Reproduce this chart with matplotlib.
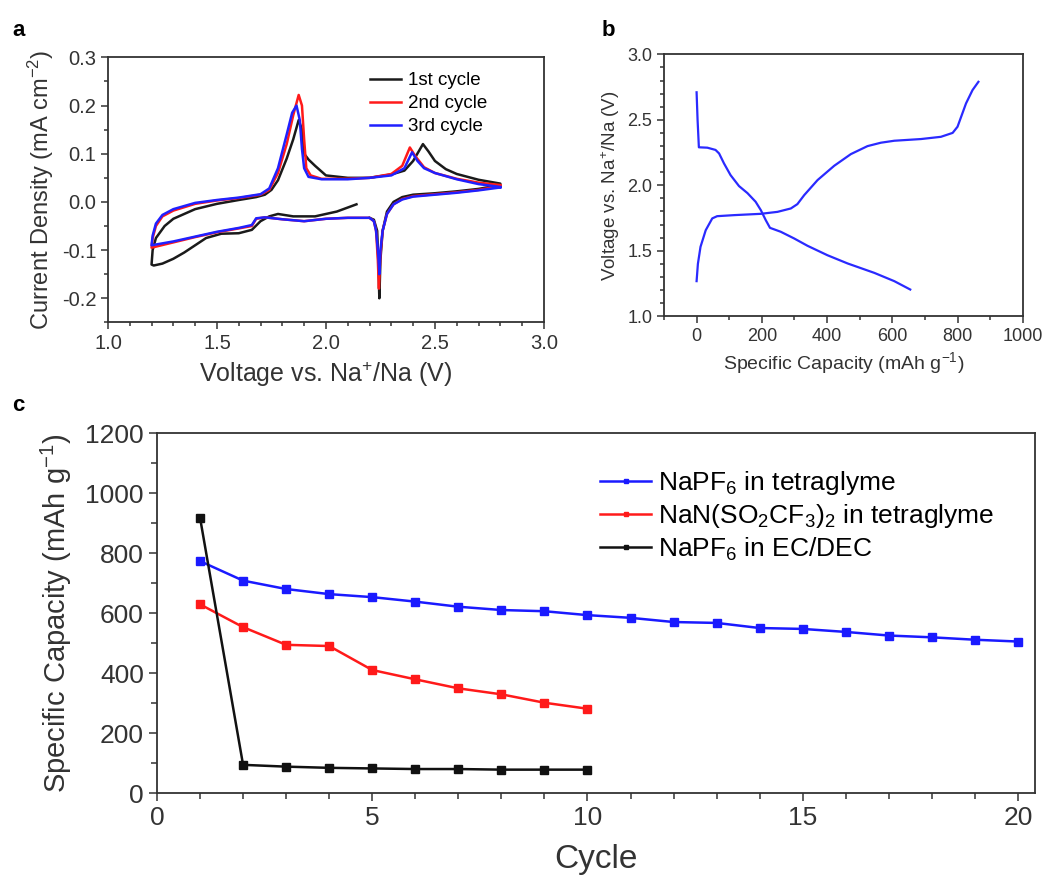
import matplotlib
matplotlib.use("Agg")
import matplotlib.pyplot as plt
from matplotlib.ticker import MultipleLocator

plt.rcParams['font.family'] = ['Liberation Sans', 'DejaVu Sans']
plt.rcParams['mathtext.fontset'] = 'custom'
plt.rcParams['mathtext.rm'] = 'Liberation Sans'
plt.rcParams['mathtext.it'] = 'Liberation Sans:italic'
plt.rcParams['mathtext.bf'] = 'Liberation Sans:bold'

# ---- panel a: cyclic voltammetry (V vs. Na+/Na, mA cm-2)
cv1_v = [2.14, 2.05, 1.95, 1.85, 1.78, 1.74, 1.70, 1.66, 1.60, 1.52, 1.45, 1.40, 1.35, 1.30,
         1.25, 1.21, 1.20, 1.205, 1.22, 1.26, 1.30, 1.40, 1.50, 1.60, 1.68, 1.72, 1.75, 1.78,
         1.82, 1.85, 1.875, 1.89, 1.90, 1.92, 1.95, 2.00, 2.10, 2.20, 2.30, 2.36, 2.40, 2.445,
         2.47, 2.50, 2.55, 2.60, 2.70, 2.80, 2.80, 2.70, 2.60, 2.50, 2.40, 2.35, 2.31, 2.28,
         2.26, 2.25, 2.245, 2.24, 2.235, 2.22, 2.20]
cv1_i = [-0.005, -0.02, -0.03, -0.03, -0.025, -0.03, -0.04, -0.058, -0.065, -0.066, -0.075,
         -0.09, -0.105, -0.118, -0.128, -0.132, -0.13, -0.10, -0.075, -0.05, -0.035, -0.015,
         -0.004, 0.004, 0.01, 0.015, 0.025, 0.045, 0.09, 0.13, 0.17, 0.15, 0.10, 0.088, 0.075,
         0.055, 0.05, 0.05, 0.057, 0.065, 0.085, 0.12, 0.105, 0.085, 0.068, 0.058, 0.046, 0.038,
         0.035, 0.027, 0.022, 0.018, 0.015, 0.01, 0.0, -0.02, -0.06, -0.12, -0.2, -0.12, -0.06,
         -0.037, -0.033]

cv2_v = [2.80, 2.70, 2.60, 2.50, 2.40, 2.35, 2.31, 2.28, 2.26, 2.25, 2.243, 2.238, 2.23, 2.22,
         2.20, 2.10, 2.00, 1.90, 1.80, 1.72, 1.68, 1.66, 1.60, 1.50, 1.40, 1.30, 1.20, 1.205,
         1.22, 1.25, 1.30, 1.40, 1.50, 1.60, 1.70, 1.74, 1.78, 1.82, 1.85, 1.875, 1.89, 1.90,
         1.91, 1.93, 1.98, 2.10, 2.20, 2.30, 2.35, 2.385, 2.41, 2.45, 2.50, 2.60, 2.70, 2.80]
cv2_i = [0.033, 0.025, 0.02, 0.016, 0.012, 0.006, -0.005, -0.025, -0.06, -0.11, -0.18, -0.12,
         -0.06, -0.04, -0.033, -0.033, -0.035, -0.04, -0.036, -0.032, -0.035, -0.05, -0.055,
         -0.063, -0.073, -0.084, -0.095, -0.075, -0.05, -0.03, -0.018, -0.004, 0.003, 0.008,
         0.015, 0.025, 0.06, 0.12, 0.18, 0.222, 0.2, 0.13, 0.07, 0.055, 0.048, 0.048, 0.05,
         0.058, 0.075, 0.113, 0.095, 0.072, 0.06, 0.048, 0.04, 0.035]

cv3_v = [2.80, 2.70, 2.60, 2.50, 2.40, 2.35, 2.31, 2.28, 2.26, 2.25, 2.245, 2.24, 2.23, 2.22,
         2.20, 2.10, 2.00, 1.90, 1.80, 1.72, 1.68, 1.66, 1.60, 1.50, 1.40, 1.30, 1.20, 1.205,
         1.22, 1.25, 1.30, 1.40, 1.50, 1.60, 1.70, 1.74, 1.78, 1.82, 1.845, 1.865, 1.88, 1.89,
         1.90, 1.92, 1.98, 2.10, 2.20, 2.30, 2.36, 2.395, 2.42, 2.45, 2.50, 2.60, 2.70, 2.80]
cv3_i = [0.03, 0.024, 0.019, 0.015, 0.011, 0.005, -0.005, -0.025, -0.06, -0.10, -0.15, -0.11,
         -0.06, -0.04, -0.033, -0.033, -0.035, -0.04, -0.036, -0.032, -0.034, -0.048, -0.054,
         -0.062, -0.072, -0.082, -0.09, -0.07, -0.045, -0.027, -0.015, -0.002, 0.004, 0.009,
         0.016, 0.028, 0.07, 0.14, 0.185, 0.2, 0.17, 0.11, 0.07, 0.052, 0.047, 0.047, 0.05,
         0.055, 0.07, 0.103, 0.085, 0.07, 0.06, 0.047, 0.037, 0.031]

# ---- panel b: charge/discharge profile
dis_cap = [0, 3, 7, 33, 58, 69, 84, 104, 130, 156, 181, 197, 212, 225, 258, 299, 340, 401,
           463, 545, 606, 655]
dis_v = [2.71, 2.50, 2.29, 2.287, 2.27, 2.243, 2.167, 2.078, 1.994, 1.94, 1.874, 1.81, 1.734,
         1.675, 1.645, 1.594, 1.538, 1.466, 1.403, 1.331, 1.268, 1.204]
chg_cap = [0, 4, 12, 28, 48, 63, 115, 197, 248, 289, 309, 330, 371, 422, 473, 524, 565, 606,
           688, 749, 785, 800, 826, 846, 864]
chg_v = [1.268, 1.40, 1.53, 1.657, 1.747, 1.764, 1.772, 1.782, 1.797, 1.823, 1.856, 1.925,
         2.04, 2.149, 2.238, 2.299, 2.325, 2.34, 2.353, 2.37, 2.40, 2.447, 2.625, 2.727, 2.79]

# ---- panel c: cycling
cycles = list(range(1, 21))
cap_napf6_tg = [773, 708, 680, 663, 653, 638, 621, 610, 606, 593, 584, 570, 567, 550, 547,
                537, 525, 519, 511, 505]
cap_natfsi_tg = [629, 553, 494, 490, 410, 379, 349, 329, 301, 281]
cap_napf6_ec = [918, 94, 88, 84, 82, 80, 80, 78, 78, 78]

fig = plt.figure(figsize=(10.43, 8.76), dpi=100)

spine_col = '#333333'
txt_col = '#333333'


def style_axes(ax, size):
    for s in ax.spines.values():
        s.set_color(spine_col)
        s.set_linewidth(1.3)
    ax.tick_params(which='both', direction='out', colors=spine_col, labelcolor=txt_col,
                   labelsize=size, width=1.1)
    ax.tick_params(which='major', length=5)
    ax.tick_params(which='minor', length=3)


# a
ax_a = fig.add_axes([0.1035, 0.632, 0.418, 0.3025])
ax_a.plot(cv1_v, cv1_i, color='#1a1a1a', lw=1.8, label='1st cycle')
ax_a.plot(cv2_v, cv2_i, color='#ff1a1a', lw=1.8, label='2nd cycle')
ax_a.plot(cv3_v, cv3_i, color='#2020ff', lw=1.8, label='3rd cycle')
ax_a.set_xlim(1.0, 3.0)
ax_a.set_ylim(-0.25, 0.3)
ax_a.xaxis.set_major_locator(MultipleLocator(0.5))
ax_a.xaxis.set_minor_locator(MultipleLocator(0.1))
ax_a.yaxis.set_major_locator(MultipleLocator(0.1))
ax_a.yaxis.set_minor_locator(MultipleLocator(0.05))
style_axes(ax_a, 14.5)
ax_a.set_xlabel('Voltage vs. Na$^{+}$/Na (V)', fontsize=18, color=txt_col, labelpad=5)
ax_a.set_ylabel('Current Density (mA cm$^{-2}$)', fontsize=17, color=txt_col, labelpad=4)
ax_a.legend(loc='upper left', frameon=False, fontsize=13.5, handlelength=1.7,
            handletextpad=0.35, borderpad=0, borderaxespad=0, labelspacing=0.32,
            bbox_to_anchor=(0.6, 0.945))
ax_a.yaxis.set_major_formatter(plt.FuncFormatter(lambda v, p: f'{v:.1f}'))

# b
ax_b = fig.add_axes([0.6366, 0.639, 0.344, 0.299])
ax_b.plot(dis_cap, dis_v, color='#2a2aff', lw=1.6)
ax_b.plot(chg_cap, chg_v, color='#2a2aff', lw=1.6)
ax_b.set_xlim(-100, 1000)
ax_b.set_ylim(1.0, 3.0)
ax_b.set_xticks([0, 200, 400, 600, 800, 1000])
ax_b.xaxis.set_minor_locator(MultipleLocator(100))
ax_b.yaxis.set_major_locator(MultipleLocator(0.5))
ax_b.yaxis.set_minor_locator(MultipleLocator(0.1))
style_axes(ax_b, 13)
ax_b.set_xlabel('Specific Capacity (mAh g$^{-1}$)', fontsize=14, color=txt_col, labelpad=4)
ax_b.set_ylabel('Voltage vs. Na$^{+}$/Na (V)', fontsize=13.5, color=txt_col, labelpad=4)

# c
ax_c = fig.add_axes([0.1505, 0.0947, 0.842, 0.411])
ax_c.plot(cycles, cap_napf6_tg, color='#1a1aff', lw=1.8, marker='s', ms=6,
          label='NaPF$_6$ in tetraglyme')
ax_c.plot(cycles[:10], cap_natfsi_tg, color='#ff1a1a', lw=1.8, marker='s', ms=6,
          label='NaN(SO$_2$CF$_3$)$_2$ in tetraglyme')
ax_c.plot(cycles[:10], cap_napf6_ec, color='#111111', lw=1.8, marker='s', ms=6,
          label='NaPF$_6$ in EC/DEC')
ax_c.set_xlim(0, 20.4)
ax_c.set_ylim(0, 1200)
ax_c.xaxis.set_major_locator(MultipleLocator(5))
ax_c.xaxis.set_minor_locator(MultipleLocator(1))
ax_c.yaxis.set_major_locator(MultipleLocator(200))
ax_c.yaxis.set_minor_locator(MultipleLocator(100))
style_axes(ax_c, 19)
ax_c.tick_params(which='major', length=6)
ax_c.tick_params(which='minor', length=4)
ax_c.set_xlabel('Cycle', fontsize=24, color=txt_col, labelpad=10)
ax_c.set_ylabel('Specific Capacity (mAh g$^{-1}$)', fontsize=21, color=txt_col, labelpad=8)
ax_c.legend(loc='upper left', frameon=False, fontsize=19, handlelength=1.9,
            handletextpad=0.27, borderpad=0, borderaxespad=0, labelspacing=0.2,
            markerscale=0.6, bbox_to_anchor=(0.505, 0.90))

# panel letters
fig.text(0.012, 0.965, 'a', fontsize=16, fontweight='bold', va='center')
fig.text(0.577, 0.965, 'b', fontsize=16, fontweight='bold', va='center')
fig.text(0.012, 0.537, 'c', fontsize=16, fontweight='bold', va='center')

plt.savefig('out.png', dpi=100)
